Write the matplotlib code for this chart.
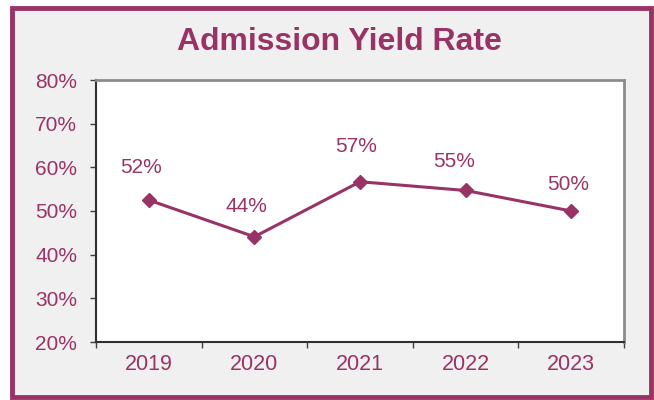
import matplotlib
matplotlib.use("Agg")
import matplotlib.pyplot as plt
from matplotlib.patches import Rectangle
from matplotlib.ticker import FixedLocator, PercentFormatter

years = ["2019", "2020", "2021", "2022", "2023"]
yield_rate = [52.5, 44.1, 56.7, 54.7, 50.0]
labels = ["52%", "44%", "57%", "55%", "50%"]
yticks = [20, 30, 40, 50, 60, 70, 80]

# label placement (pixels relative to each marker), style only
label_offsets = [(-7.5, 33), (-8, 30.5), (-3.5, 35), (-12, 29), (-3, 26)]

maroon = "#993366"
plt.rcParams['font.family'] = ['Liberation Sans', 'DejaVu Sans']

W, H = 654, 400
fig = plt.figure(figsize=(W / 100, H / 100), dpi=100)
fig.patch.set_facecolor("white")

# outer frame
fig.patches.append(Rectangle((11.5 / W, 1 - 396.5 / H), (650.5 - 11.5) / W, (396.5 - 7.5) / H,
                             transform=fig.transFigure, facecolor="#f0f0f0",
                             edgecolor=maroon, linewidth=3.5, zorder=0))

ax = fig.add_axes([96 / W, 1 - 342 / H, (624 - 96) / W, (342 - 80) / H])
ax.set_zorder(2)
ax.set_facecolor("white")
x = list(range(len(years)))
ax.plot(x, yield_rate, color=maroon, linewidth=2.2, marker="D", markersize=7,
        markerfacecolor=maroon, markeredgecolor=maroon, clip_on=False, zorder=3)
for xi, yi, lab, off in zip(x, yield_rate, labels, label_offsets):
    ax.annotate(lab, (xi, yi), xytext=off, textcoords="offset pixels",
                ha="center", va="center", fontsize=15, color=maroon)

ax.set_xlim(-0.5, len(years) - 0.5)
ax.set_ylim(20, 80)
ax.set_yticks(yticks)
ax.yaxis.set_major_formatter(PercentFormatter(decimals=0))
ax.set_xticks(x)
ax.set_xticklabels(years)
ax.xaxis.set_minor_locator(FixedLocator([i - 0.5 for i in range(len(years) + 1)]))
ax.tick_params(axis="x", which="major", length=0, pad=8.5, labelsize=15.5, labelcolor=maroon)
ax.tick_params(axis="x", which="minor", length=4.5, width=1, color="#404040", direction="out")
ax.tick_params(axis="y", length=4.5, width=1, color="#404040", pad=9, labelsize=15, labelcolor=maroon)

for side in ["left", "bottom"]:
    ax.spines[side].set_color("#303030")
    ax.spines[side].set_linewidth(1.5)
for side in ["top", "right"]:
    ax.spines[side].set_color("#8c8c8c")
    ax.spines[side].set_linewidth(2)

fig.text(339 / W, 1 - 42 / H, "Admission Yield Rate", ha="center", va="center",
         fontsize=23, fontweight="bold", color=maroon, zorder=3)

fig.savefig("out.png", dpi=100)
